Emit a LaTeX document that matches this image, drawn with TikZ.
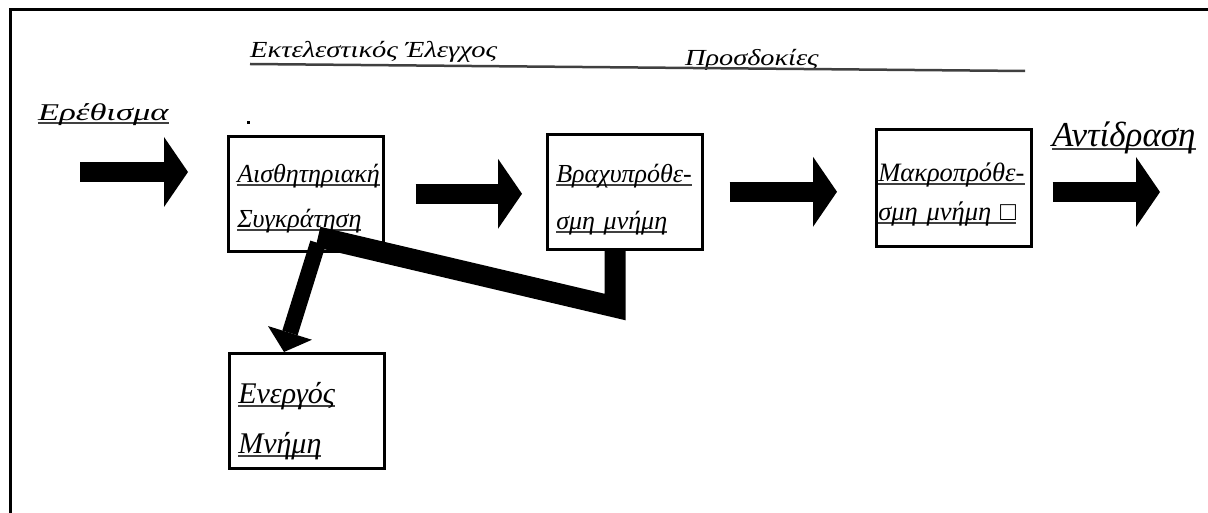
\documentclass[tikz,border=0pt]{standalone}
\usepackage{fontspec}
\usepackage{graphicx}
\setmainfont{Liberation Serif}
\usetikzlibrary{arrows.meta}
\newsavebox\ulbox
\newcommand\ulx[1]{\leavevmode\sbox\ulbox{#1}\rlap{\color{black!75}\rule[-3.5pt]{\wd\ulbox}{2.2pt}}\usebox\ulbox}
\newcommand\stretchx[2]{\scalebox{#1}[1]{#2}}
\newcommand\tp[1]{\rule{0pt}{#1}}
\tikzset{
  box/.style={draw, line width=2.6pt, align=left, anchor=north west, inner xsep=9pt,
    text width=137pt, minimum height=115pt, font=\itshape\fontsize{26}{45}\selectfont},
  lbl/.style={inner sep=0pt, anchor=base west, font=\itshape\fontsize{23}{26}\selectfont},
  blockarrow/.style={line width=20pt, -{Triangle[length=24pt,width=70pt,line width=0pt]}},
  band/.style={line width=21pt, line join=miter},
  branch/.style={line width=16pt, -{Triangle[length=20pt,width=46pt,line width=0pt]}}
}
\begin{document}
\begin{tikzpicture}[x=1pt,y=-1pt]
\useasboundingbox (0,0) rectangle (1208,513);
% frame
\draw[line width=3pt] (1208,10) -- (10,10) -- (10,513);
% top labels
\node[lbl] (exec) at (250,58) {\stretchx{1.24}{Εκτελεστικός Έλεγχος}};
\node[lbl] (exp) at (685,66) {\stretchx{1.23}{Προσδοκίες}};
\draw[line width=2.5pt, black!75] (250,64) -- (1025,71);
\node[lbl, font=\itshape\fontsize{24}{26}\selectfont] (stim) at (38,121) {\stretchx{1.44}{\ulx{Ερέθισμα}}};
\node[lbl, font=\itshape\fontsize{35}{36}\selectfont] (resp) at (1052,147) {\ulx{Αντίδραση}};
\fill (246.5,121.5) rectangle (249.5,124.5);
% boxes
\node[box] (s1) at (227,135) {\tp{28pt}\ulx{Αισθητηριακή}\\\ulx{Συγκράτηση}};
\node[box, font=\itshape\fontsize{26}{47}\selectfont] (s2) at (546,133) {\tp{34pt}\ulx{Βραχυπρόθε-}\\\ulx{σμη μνήμη}};
\node[box, minimum height=117pt, inner xsep=2pt, text width=151pt, font=\itshape\fontsize{26.5}{39}\selectfont] (s3) at (875,128) {\tp{32pt}\ulx{Μακροπρόθε-}\\\ulx{σμη μνήμη □}};
\node[box, font=\itshape\fontsize{30}{50}\selectfont] (act) at (228,352) {\tp{42pt}\ulx{Ενεργός}\\\ulx{Μνήμη}};
% arrows
\coordinate (i1) at (80,172);
\coordinate (i2) at (188,172);
\coordinate (o2) at (1160,192);
\draw[blockarrow] (i1) -- (i2);
\draw[blockarrow, shorten <=31pt, shorten >=24pt] (s1.east) -- (s1.east -| s2.west);
\draw[blockarrow, shorten <=26pt, shorten >=38pt] (s2.east) -- (s2.east -| s3.west);
\draw[blockarrow, shorten <=20pt] (s3.east |- o2) -- (o2);
% feedback band
\coordinate (k1) at (615,307);
\coordinate (k2) at (318,237);
\coordinate (tip) at (284,352);
\draw[band] (s2.south -| k1) -- (k1) -- (k2);
\draw[branch] ([yshift=-6pt]k2) -- (act.north -| tip);
\end{tikzpicture}
\end{document}
